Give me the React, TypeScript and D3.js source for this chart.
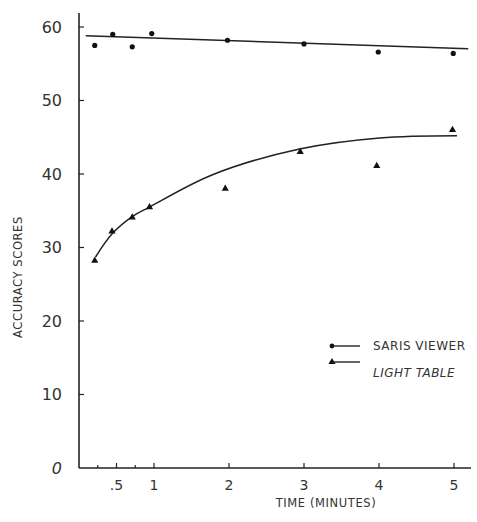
import React, { useEffect, useRef } from 'react';
import * as d3 from 'd3';

// observed scores
const sarisTimes = [0.21, 0.45, 0.71, 0.97, 1.98, 3.0, 3.99, 4.99];
const sarisScores = [57.5, 59.0, 57.3, 59.1, 58.2, 57.7, 56.6, 56.4];
const lightTimes = [0.21, 0.44, 0.71, 0.94, 1.95, 2.95, 3.97, 4.98];
const lightScores = [28.2, 32.2, 34.1, 35.5, 38.0, 43.0, 41.1, 46.0];

// fitted curves
const sarisFitTimes = [0.09, 5.19];
const sarisFitScores = [58.8, 57.05];
const lightFitTimes = [0.22, 0.445, 0.71, 0.94, 1.78, 2.94, 4.01, 5.04];
const lightFitScores = [28.7, 31.9, 34.2, 35.5, 39.9, 43.4, 44.9, 45.2];

const yTicks = [0, 10, 20, 30, 40, 50, 60];
const xMajorTicks = [0.5, 1, 2, 3, 4, 5];
const xMajorLabels = ['.5', '1', '2', '3', '4', '5'];
const xMinorTicks = [0.25, 0.75];

const FONT = '"DejaVu Sans", sans-serif';
const INK = '#222';

const App = () => {
  const svgRef = useRef<SVGSVGElement>(null);

  useEffect(() => {
    document.body.style.margin = '0';
    const svg = d3.select(svgRef.current);
    svg.selectAll('*').remove();

    const x = d3.scaleLinear().domain([0, 5]).range([79, 454]);
    const y = d3.scaleLinear().domain([0, 60]).range([468, 27]);

    const g = svg.append('g');

    // axes lines
    g.append('line').attr('x1', x(0)).attr('x2', x(0)).attr('y1', 13).attr('y2', y(0))
      .attr('stroke', INK).attr('stroke-width', 1.6);
    g.append('line').attr('x1', x(0)).attr('x2', 471).attr('y1', y(0)).attr('y2', y(0))
      .attr('stroke', INK).attr('stroke-width', 1.6);

    // y ticks
    yTicks.forEach(t => {
      if (t > 0) {
        g.append('line').attr('x1', x(0)).attr('x2', x(0) + 5).attr('y1', y(t)).attr('y2', y(t))
          .attr('stroke', INK).attr('stroke-width', 1.2);
      }
      g.append('text').attr('x', 62).attr('y', y(t)).attr('dy', '0.36em')
        .attr('text-anchor', 'end')
        .style('font-family', FONT).style('font-size', '16px')
        .style('font-style', t === 0 ? 'italic' : 'normal')
        .attr('fill', '#333')
        .text(t);
    });

    // x ticks
    xMajorTicks.forEach((t, i) => {
      g.append('line').attr('x1', x(t)).attr('x2', x(t)).attr('y1', y(0)).attr('y2', y(0) - 5)
        .attr('stroke', INK).attr('stroke-width', 1.2);
      g.append('text').attr('x', x(t)).attr('y', 490).attr('text-anchor', 'middle')
        .style('font-family', FONT).style('font-size', '14px')
        .attr('fill', '#333')
        .text(xMajorLabels[i]);
    });
    xMinorTicks.forEach(t => {
      g.append('line').attr('x1', x(t)).attr('x2', x(t)).attr('y1', y(0)).attr('y2', y(0) - 3)
        .attr('stroke', INK).attr('stroke-width', 1.2);
    });

    // axis titles
    g.append('text').attr('x', 326).attr('y', 507).attr('text-anchor', 'middle')
      .style('font-family', FONT).style('font-size', '11.5px').style('letter-spacing', '0.6px')
      .attr('fill', '#333')
      .text('TIME (MINUTES)');
    g.append('text').attr('transform', 'translate(22,277) rotate(-90)')
      .attr('text-anchor', 'middle')
      .style('font-family', FONT).style('font-size', '11.5px').style('letter-spacing', '0.6px')
      .attr('fill', '#333')
      .text('ACCURACY SCORES');

    // fitted lines
    const line = d3.line<[number, number]>()
      .x(d => x(d[0])).y(d => y(d[1]))
      .curve(d3.curveCatmullRom.alpha(0.5));
    g.append('path').attr('d', line(d3.zip(sarisFitTimes, sarisFitScores) as [number, number][]))
      .attr('fill', 'none').attr('stroke', INK).attr('stroke-width', 1.5);
    g.append('path').attr('d', line(d3.zip(lightFitTimes, lightFitScores) as [number, number][]))
      .attr('fill', 'none').attr('stroke', INK).attr('stroke-width', 1.5);

    // points
    sarisTimes.forEach((t, i) => {
      g.append('circle').attr('cx', x(t)).attr('cy', y(sarisScores[i])).attr('r', 2.6).attr('fill', '#111');
    });
    const tri = d3.symbol().type(d3.symbolTriangle).size(22);
    lightTimes.forEach((t, i) => {
      g.append('path').attr('d', tri()).attr('transform', `translate(${x(t)},${y(lightScores[i])})`)
        .attr('fill', '#111');
    });

    // legend
    const lx = 332;
    g.append('circle').attr('cx', lx).attr('cy', 346).attr('r', 2.4).attr('fill', '#111');
    g.append('line').attr('x1', lx).attr('x2', 360).attr('y1', 346).attr('y2', 346)
      .attr('stroke', INK).attr('stroke-width', 1.4);
    g.append('text').attr('x', 373).attr('y', 350)
      .style('font-family', FONT).style('font-size', '12px').style('letter-spacing', '0.5px')
      .attr('fill', '#333')
      .text('SARIS VIEWER');
    g.append('path').attr('d', tri()).attr('transform', `translate(${lx},362)`).attr('fill', '#111');
    g.append('line').attr('x1', lx).attr('x2', 360).attr('y1', 362).attr('y2', 362)
      .attr('stroke', INK).attr('stroke-width', 1.4);
    g.append('text').attr('x', 373).attr('y', 377)
      .style('font-family', FONT).style('font-size', '12px').style('font-style', 'italic')
      .style('letter-spacing', '0.5px')
      .attr('fill', '#333')
      .text('LIGHT TABLE');
  }, []);

  return <svg ref={svgRef} width={477} height={522} style={{ display: 'block', background: '#fff' }}></svg>;
};

export default App;
